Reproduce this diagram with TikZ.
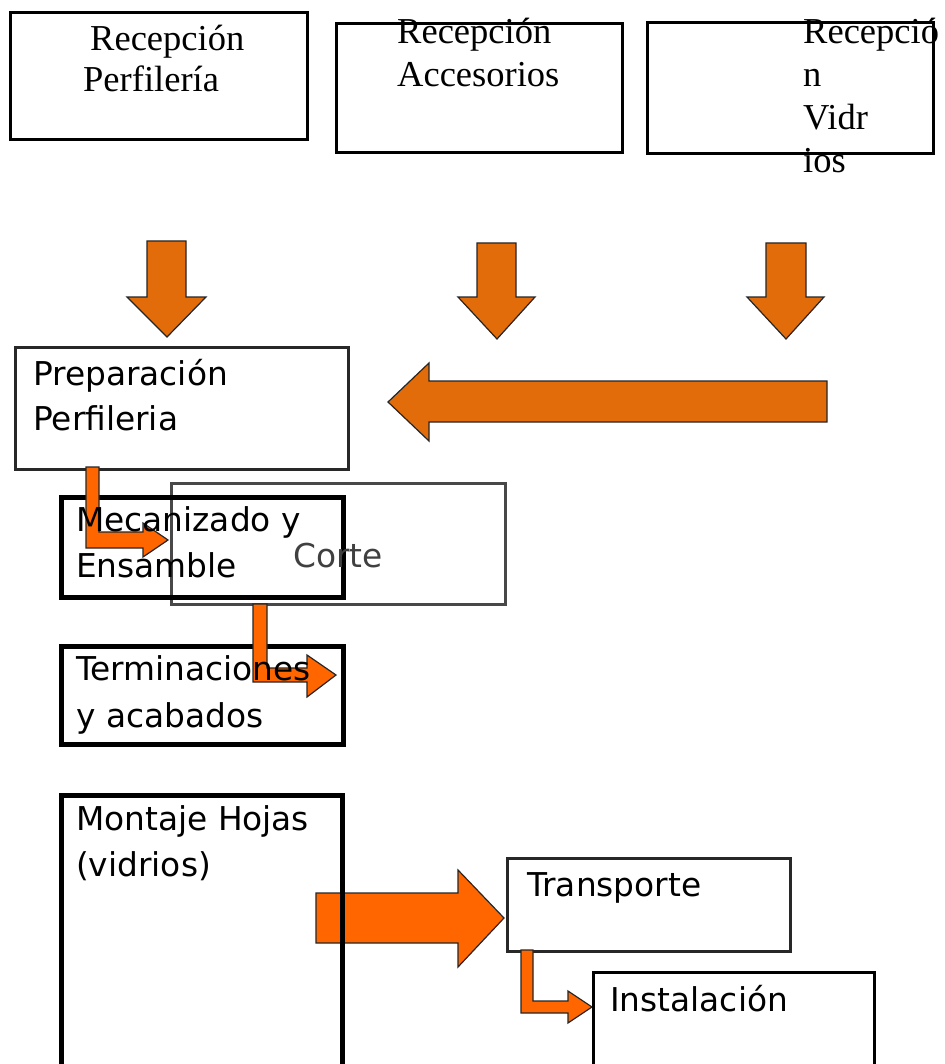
\documentclass[tikz,border=0pt]{standalone}
\usepackage{fontspec}
\newfontfamily\sansf{DejaVu Sans}
\newfontfamily\seriff{Liberation Serif}
\definecolor{arrA}{RGB}{226,108,10}
\definecolor{arrB}{RGB}{255,102,0}
\definecolor{edgegray}{RGB}{40,40,40}
\begin{document}
\begin{tikzpicture}[x=1pt,y=-1pt,
  topbox/.style={draw=black,line width=3pt,fill=white,rectangle,anchor=north west,inner sep=0pt},
  thinbox/.style={draw=edgegray,line width=2.6pt,fill=white,rectangle,anchor=north west,inner sep=0pt},
  thickbox/.style={draw=black,line width=4.5pt,rectangle,anchor=north west,inner sep=0pt},
  serlbl/.style={anchor=base west,inner sep=0pt,font=\seriff\fontsize{36.5}{40}\selectfont},
  sanlbl/.style={anchor=base west,inner sep=0pt,font=\sansf\fontsize{32.8}{38}\selectfont},
  blockA/.style={fill=arrA,draw=black!85,line width=1.2pt,line join=miter},
  blockB/.style={fill=arrB,draw=black!85,line width=1.2pt,line join=miter}]
\useasboundingbox (0,0) rectangle (944,1064);
\clip (0,0) rectangle (944,1064);
\fill[white] (0,0) rectangle (944,1064);

% top boxes
\node[topbox,minimum width=297pt,minimum height=127pt] (rp) at (9,11) {};
\node[topbox,minimum width=286pt,minimum height=129pt] (ra) at (335,22) {};
\node[topbox,minimum width=286pt,minimum height=131pt] (rv) at (646,21) {};
\node[serlbl] (rp1) at (90,51) {Recepción};
\node[serlbl] (rp2) at (83,92) {Perfilería};
\node[serlbl] (ra1) at (397,44) {Recepción};
\node[serlbl] (ra2) at (397,87) {Accesorios};
\node[serlbl] (rv1) at (803,44) {Recepció};
\node[serlbl] (rv2) at (803,87) {n};
\node[serlbl] (rv3) at (803,130) {Vidr};
\node[serlbl] (rv4) at (803,173) {ios};

% down arrows
\draw[blockA] (147,241) -- (186,241) -- (186,297) -- (206,297) -- (167,337) -- (127,297) -- (147,297) -- cycle;
\draw[blockA] (477,243) -- (516,243) -- (516,297) -- (535,297) -- (497,339) -- (458,297) -- (477,297) -- cycle;
\draw[blockA] (766,243) -- (806,243) -- (806,297) -- (824,297) -- (786,339) -- (747,297) -- (766,297) -- cycle;
% left arrow
\draw[blockA] (827,381) -- (429,381) -- (429,363) -- (388,402) -- (429,441) -- (429,422) -- (827,422) -- cycle;

% Preparacion
\node[thinbox,minimum width=333pt,minimum height=122pt] (pp) at (14,346) {};
\node[sanlbl] (pp1) at (33,385) {Preparación};
\node[sanlbl] (pp2) at (33,430) {Perfileria};

% Corte and Mecanizado
\node[thinbox,draw=edgegray!85,minimum width=334pt,minimum height=121pt] (co) at (170,482) {};
\node[thickbox,minimum width=282pt,minimum height=100pt] (me) at (59,495) {};
\node[thickbox,minimum width=282pt,minimum height=98pt] (te) at (59,644) {};

% elbow arrows
\draw[blockB] (86,467) -- (99,467) -- (99,532) -- (143,532) -- (143,523) -- (168,540) -- (143,557) -- (143,548) -- (86,548) -- cycle;
\draw[blockB] (253,604) -- (267,604) -- (267,668) -- (307,668) -- (307,655) -- (336,675) -- (307,697) -- (307,682) -- (253,682) -- cycle;

\node[sanlbl,text=black!75] (co1) at (293,567) {Corte};
\node[sanlbl] (me1) at (76,531) {Mecanizado y};
\node[sanlbl] (me2) at (76,577) {Ensamble};
\node[sanlbl] (te1) at (76,680) {Terminaciones};
\node[sanlbl] (te2) at (76,727) {y acabados};

% bottom
\draw[blockB] (316,893) -- (458,893) -- (458,870) -- (504,918) -- (458,967) -- (458,943) -- (316,943) -- cycle;
\node[thickbox,minimum width=281pt,minimum height=290pt] (mo) at (59,793) {};
\node[sanlbl] (mo1) at (76,830) {Montaje Hojas};
\node[sanlbl] (mo2) at (76,876) {(vidrios)};

\node[thinbox,minimum width=283pt,minimum height=93pt] (tr) at (506,857) {};
\node[sanlbl] (tr1) at (527,896) {Transporte};
\draw[blockB] (521,950) -- (533,950) -- (533,1001) -- (568,1001) -- (568,991) -- (592,1007) -- (568,1023) -- (568,1013) -- (521,1013) -- cycle;
\node[thinbox,draw=black,line width=3pt,minimum width=281pt,minimum height=110pt] (in) at (592,971) {};
\node[sanlbl] (in1) at (610,1011) {Instalación};
\end{tikzpicture}
\end{document}
